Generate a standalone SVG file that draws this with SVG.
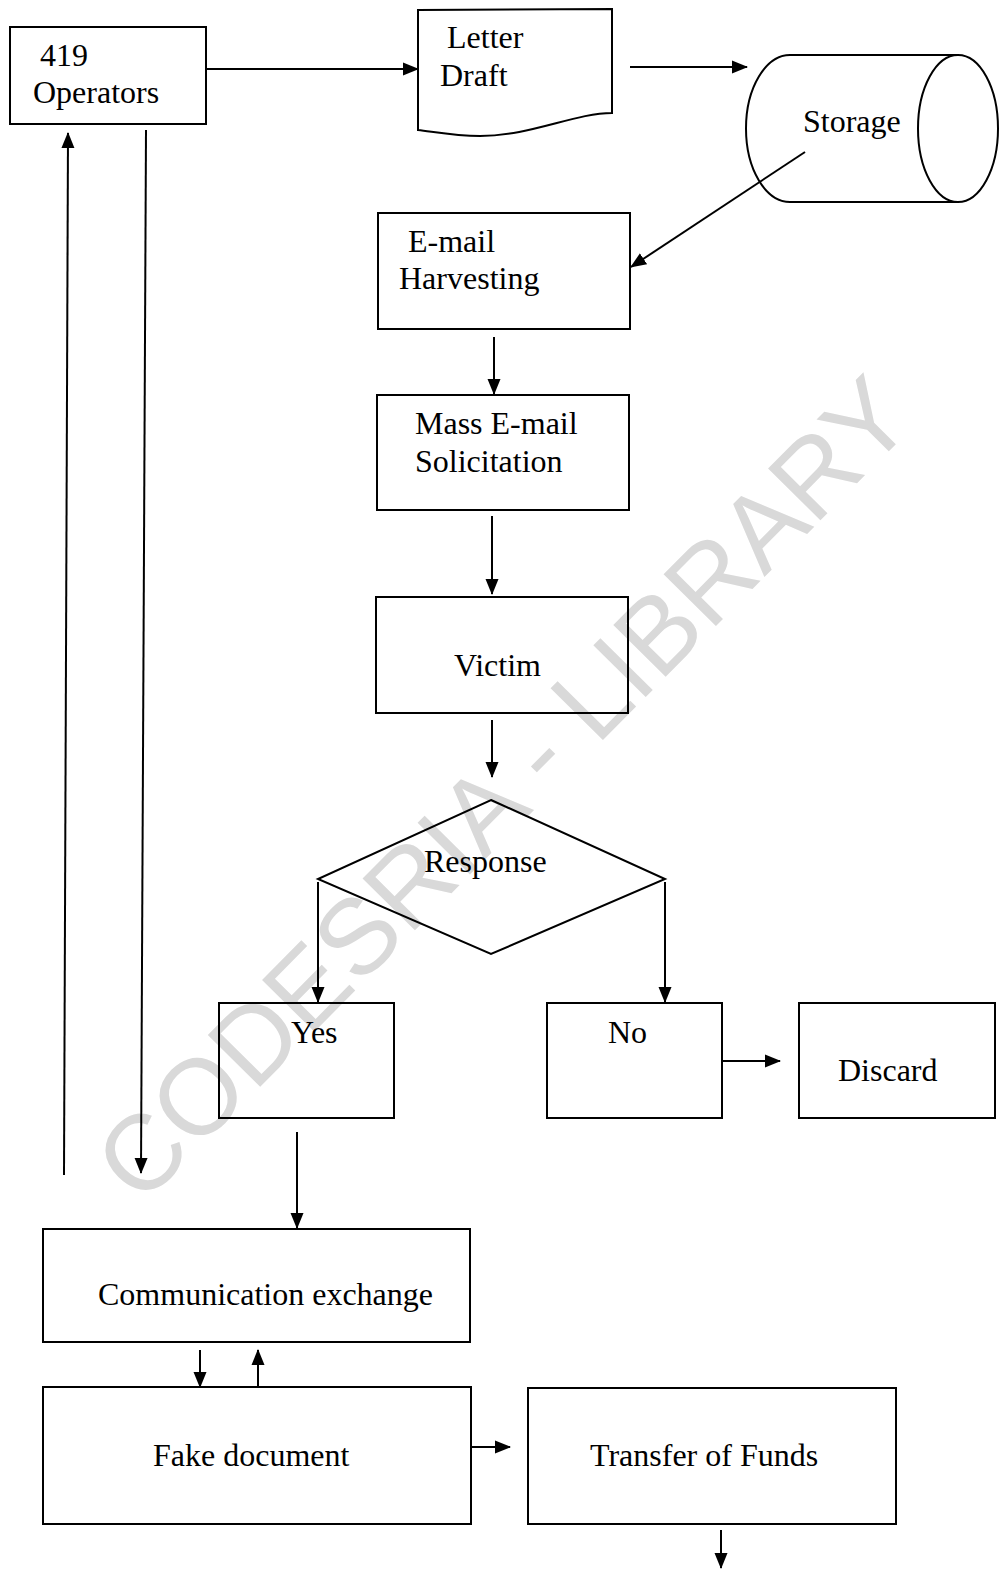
<svg xmlns="http://www.w3.org/2000/svg" width="1000" height="1571" viewBox="0 0 1000 1571">
<style>
.box{fill:none;stroke:#000;stroke-width:2}
.t{font-family:"Liberation Serif","Times New Roman",serif;font-size:32px;fill:#000}
.c{fill:none;stroke:#000;stroke-width:2;marker-end:url(#ah)}
.wm{font-family:"Liberation Sans",Arial,sans-serif;font-size:107px;fill:#d9d9d9}
</style>
<defs>
<marker id="ah" markerUnits="userSpaceOnUse" markerWidth="16" markerHeight="14" refX="15" refY="7" orient="auto">
<path d="M0,0.5 L16,7 L0,13.5 z" fill="#000"/>
</marker>
</defs>
<rect width="1000" height="1571" fill="#fff"/>
<text class="wm" x="0" y="0" transform="translate(141,1207) rotate(-45.3)">CODESRIA - LIBRARY</text>

<g id="operators"><rect class="box" x="10" y="27" width="196" height="97"/><text class="t" x="40" y="66">419</text><text class="t" x="33" y="103">Operators</text></g>
<g id="letter-draft"><path class="box" d="M418,10 L612,9 L612,113 C575,113 530,136 480,136 C455,136 435,132 418,130 Z"/><text class="t" x="447" y="48">Letter</text><text class="t" x="440" y="86">Draft</text></g>
<g id="storage"><path class="box" d="M958,55 L790,55 A44,73.5 0 0 0 790,202 L958,202"/><ellipse class="box" cx="958" cy="128.5" rx="40" ry="73.5"/><text class="t" x="803" y="132">Storage</text></g>
<g id="email-harvesting"><rect class="box" x="378" y="213" width="252" height="116"/><text class="t" x="408" y="252">E-mail</text><text class="t" x="399" y="289">Harvesting</text></g>
<g id="mass-email"><rect class="box" x="377" y="395" width="252" height="115"/><text class="t" x="415" y="434">Mass E-mail</text><text class="t" x="415" y="472">Solicitation</text></g>
<g id="victim"><rect class="box" x="376" y="597" width="252" height="116"/><text class="t" x="454" y="676">Victim</text></g>
<g id="response"><path class="box" d="M491,800 L665,879 L491,954 L318,879 Z"/><text class="t" x="424" y="872">Response</text></g>
<g id="yes"><rect class="box" x="219" y="1003" width="175" height="115"/><text class="t" x="291" y="1043">Yes</text></g>
<g id="no"><rect class="box" x="547" y="1003" width="175" height="115"/><text class="t" x="608" y="1043">No</text></g>
<g id="discard"><rect class="box" x="799" y="1003" width="196" height="115"/><text class="t" x="838" y="1081">Discard</text></g>
<g id="communication"><rect class="box" x="43" y="1229" width="427" height="113"/><text class="t" x="98" y="1305">Communication exchange</text></g>
<g id="fake-document"><rect class="box" x="43" y="1387" width="428" height="137"/><text class="t" x="153" y="1466">Fake document</text></g>
<g id="transfer"><rect class="box" x="528" y="1388" width="368" height="136"/><text class="t" x="590" y="1466">Transfer of Funds</text></g>

<g id="connectors">
<line class="c" x1="206" y1="69" x2="418" y2="69"/>
<line class="c" x1="630" y1="67" x2="747" y2="67"/>
<line class="c" x1="805" y1="152" x2="631" y2="267"/>
<line class="c" x1="494" y1="337" x2="494" y2="394"/>
<line class="c" x1="492" y1="516" x2="492" y2="594"/>
<line class="c" x1="492" y1="720" x2="492" y2="777"/>
<line class="c" x1="318" y1="882" x2="318" y2="1002"/>
<line class="c" x1="665" y1="882" x2="665" y2="1002"/>
<line class="c" x1="722" y1="1061" x2="780" y2="1061"/>
<line class="c" x1="297" y1="1132" x2="297" y2="1228"/>
<line class="c" x1="200" y1="1350" x2="200" y2="1387"/>
<line class="c" x1="258" y1="1387" x2="258" y2="1350"/>
<line class="c" x1="471" y1="1447" x2="510" y2="1447"/>
<line class="c" x1="721" y1="1530" x2="721" y2="1568"/>
<line class="c" x1="64" y1="1175" x2="68" y2="133"/>
<line class="c" x1="146" y1="130" x2="141" y2="1173"/>
</g>
</svg>
